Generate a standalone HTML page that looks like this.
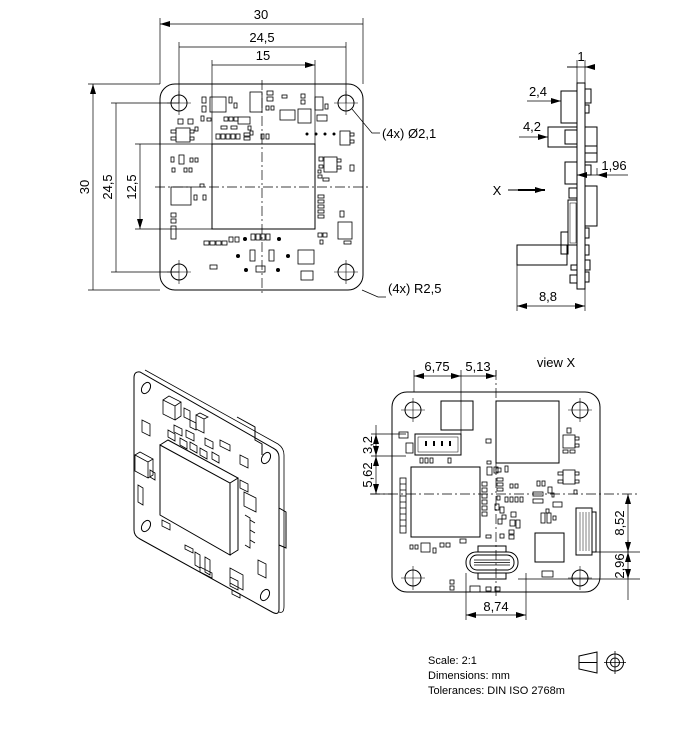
<!DOCTYPE html>
<html><head><meta charset="utf-8"><style>
html,body{margin:0;padding:0;background:#fff}
svg{display:block}
text{font-family:"Liberation Sans",sans-serif;font-size:13px;fill:#000}
.s{font-size:11px}
</style></head><body>
<svg width="689" height="751" viewBox="0 0 689 751" xmlns="http://www.w3.org/2000/svg">
<defs>
<marker id="a" viewBox="0 0 10 6" refX="10" refY="3" markerWidth="10" markerHeight="6" orient="auto-start-reverse" markerUnits="userSpaceOnUse"><path d="M0,0L10,3L0,6z" fill="#000"/></marker>
</defs>
<g fill="none" stroke="#000" stroke-width="1">
<!-- TOP VIEW -->
<rect x="160" y="84" width="203" height="206" rx="15"/>
<circle cx="179" cy="103" r="8"/><circle cx="346" cy="103" r="8"/><circle cx="179" cy="272" r="8"/><circle cx="346" cy="272" r="8"/>
<g stroke-width="0.6"><path d="M167 103h24M179 91v24M334 103h24M346 91v24M167 272h24M179 260v24M334 272h24M346 260v24"/></g>
<path d="M155 187h215M262 80v215" stroke-dasharray="10,3,2,3" stroke-width="0.7"/>
<rect x="212" y="144" width="103" height="85"/>
<g stroke-width="0.7">
<path d="M160 84V18M363 84V18M179 103V42M346 103V42M212 144V60M315 144V60"/>
<path d="M160 24H363M179 47H346M212 65H315" marker-start="url(#a)" marker-end="url(#a)"/>
<path d="M160 84H88M160 290H88M179 103H111M179 272H111M212 144H135M212 229H135"/>
<path d="M93 84V290M116 103V272M140 144V229" marker-start="url(#a)" marker-end="url(#a)"/>
<path d="M352 109L372 133H380M362 290L378 297H386"/>
</g>
<g stroke-width="0.8">
<rect x="210" y="97" width="16" height="15"/><rect x="202" y="97" width="4" height="6"/><rect x="202" y="106" width="4" height="6"/><rect x="229" y="97" width="3" height="6"/><rect x="234" y="103" width="3" height="5"/>
<rect x="250" y="92" width="12" height="20"/><rect x="267" y="91" width="6" height="4"/><rect x="267" y="97" width="6" height="4"/><rect x="266" y="106" width="3" height="4"/><rect x="271" y="106" width="3" height="4"/><rect x="282" y="95" width="5" height="3"/>
<rect x="280" y="110" width="15" height="10"/><rect x="298" y="109" width="13" height="14"/><rect x="301" y="94" width="4" height="4"/><rect x="301" y="100" width="4" height="4"/><rect x="315" y="97" width="8" height="13"/><rect x="325" y="104" width="3" height="5"/><rect x="317" y="115" width="10" height="6"/>
<rect x="238" y="117" width="12" height="7"/><rect x="224" y="117" width="4" height="4"/><rect x="229" y="117" width="4" height="4"/><rect x="234" y="117" width="4" height="4"/><rect x="207" y="118" width="4" height="3"/><rect x="201" y="116" width="3" height="5"/>
<rect x="221" y="126" width="6" height="3"/><rect x="231" y="126" width="6" height="3"/><rect x="248" y="126" width="3" height="4"/><rect x="250" y="131" width="3" height="4"/>
<rect x="216" y="134" width="4" height="5"/><rect x="221" y="134" width="4" height="5"/><rect x="226" y="134" width="4" height="5"/><rect x="231" y="134" width="4" height="5"/><rect x="236" y="134" width="4" height="5"/><rect x="244" y="133" width="6" height="3"/><rect x="244" y="137" width="6" height="3"/><rect x="261" y="134" width="3" height="5"/><rect x="266" y="134" width="3" height="5"/>
<rect x="176" y="128" width="14" height="14"/><rect x="171" y="130" width="5" height="3"/><rect x="171" y="137" width="5" height="3"/><rect x="190" y="130" width="4" height="3"/><rect x="190" y="137" width="4" height="3"/><rect x="178" y="119" width="5" height="5"/><rect x="188" y="119" width="5" height="5"/><rect x="195" y="127" width="3" height="4"/>
<rect x="340" y="131" width="10" height="14"/><rect x="350" y="133" width="4" height="3"/><rect x="350" y="140" width="4" height="3"/>
<rect x="171" y="157" width="3" height="5"/><rect x="179" y="155" width="5" height="9"/><rect x="190" y="158" width="3" height="4"/><rect x="195" y="158" width="3" height="4"/><rect x="172" y="168" width="3" height="4"/><rect x="184" y="168" width="3" height="4"/><rect x="189" y="168" width="3" height="4"/>
<rect x="171" y="187" width="20" height="18"/><rect x="200" y="184" width="4" height="3"/><rect x="194" y="195" width="3" height="5"/><rect x="203" y="195" width="3" height="5"/>
<rect x="171" y="213" width="5" height="4"/><rect x="171" y="219" width="5" height="4"/><rect x="171" y="226" width="5" height="13"/>
<rect x="324" y="157" width="13" height="15"/><rect x="319" y="157" width="4" height="4"/><rect x="319" y="165" width="4" height="3"/><rect x="337" y="159" width="4" height="3"/><rect x="337" y="166" width="4" height="3"/><rect x="318" y="170" width="3" height="3"/><rect x="318" y="175" width="4" height="3"/><rect x="323" y="178" width="6" height="3"/><rect x="350" y="165" width="4" height="6"/>
<rect x="318" y="195" width="6" height="3"/><rect x="318" y="200" width="6" height="3"/><rect x="318" y="205" width="6" height="3"/><rect x="318" y="210" width="6" height="3"/><rect x="318" y="215" width="6" height="3"/>
<rect x="340" y="211" width="4" height="6"/><rect x="338" y="222" width="14" height="17"/><rect x="344" y="241" width="7" height="3"/>
<rect x="318" y="233" width="4" height="4"/><rect x="323" y="233" width="4" height="4"/><rect x="320" y="240" width="3" height="4"/>
<rect x="204" y="241" width="5" height="4"/><rect x="210" y="241" width="5" height="4"/><rect x="216" y="241" width="5" height="4"/><rect x="222" y="241" width="5" height="4"/><rect x="229" y="237" width="4" height="5"/><rect x="235" y="237" width="4" height="5"/>
<rect x="251" y="234" width="4" height="6"/><rect x="256" y="234" width="4" height="6"/><rect x="261" y="234" width="4" height="6"/><rect x="266" y="234" width="4" height="6"/>
<rect x="250" y="250" width="5" height="11"/><rect x="269" y="250" width="5" height="11"/><rect x="256" y="266" width="9" height="6"/><rect x="298" y="250" width="16" height="14"/><rect x="301" y="271" width="12" height="9"/><rect x="210" y="265" width="7" height="4"/>
</g>
<g fill="#000" stroke="none"><circle cx="307" cy="134" r="1.5"/><circle cx="316" cy="134" r="1.5"/><circle cx="325" cy="134" r="1.5"/><circle cx="334" cy="134" r="1.5"/><circle cx="245" cy="239" r="2"/><circle cx="279" cy="239" r="2"/><circle cx="238" cy="256" r="2"/><circle cx="288" cy="256" r="2"/><circle cx="246" cy="270" r="2"/><circle cx="278" cy="270" r="2"/></g>

<!-- SIDE VIEW -->
<rect x="577" y="83" width="8" height="206"/>
<rect x="561" y="91" width="16" height="32"/><rect x="548" y="127" width="29" height="20"/><rect x="565" y="130" width="12" height="14"/>
<rect x="565" y="162" width="12" height="22"/><rect x="569" y="188" width="8" height="10"/>
<rect x="568" y="200" width="9" height="45"/><rect x="570" y="203" width="6" height="40" stroke-width="0.5"/>
<rect x="561" y="232" width="7" height="22"/><rect x="517" y="245" width="50" height="20"/><rect x="571" y="265" width="6" height="5"/><rect x="570" y="275" width="7" height="8"/>
<rect x="585" y="89" width="6" height="14"/><rect x="585" y="105" width="4" height="8"/><rect x="585" y="127" width="12" height="35"/><rect x="585" y="146" width="12" height="7"/><rect x="585" y="165" width="6" height="10"/><rect x="585" y="186" width="12" height="40"/><rect x="585" y="228" width="4" height="10"/><rect x="585" y="245" width="4" height="10"/><rect x="585" y="260" width="5" height="10"/><rect x="585" y="272" width="4" height="10"/>
<g stroke-width="0.7">
<path d="M577 83V60M585 83V60"/>
<path d="M567 67H577M595 67H585" marker-end="url(#a)"/><path d="M567 67H595"/>
<path d="M527 101H561" marker-end="url(#a)"/>
<path d="M519 137H548" marker-end="url(#a)"/>
<path d="M628 175H597" marker-end="url(#a)"/><path d="M597 175H577" marker-end="url(#a)"/><path d="M597 175V168"/>
<path d="M517 265V311M585 289V311"/><path d="M517 306H585" marker-start="url(#a)" marker-end="url(#a)"/>
</g>
<path d="M508 190H533"/><path d="M518 190H545" marker-end="url(#a)" stroke-width="2"/>

<!-- ISO VIEW -->
<path d="M140 372Q134 371 134 378V530Q134 536 140 539L272 612Q279 616 279 609V457Q279 451 273 448Z"/>
<path d="M145 370L278 444Q284 448 284 455V606Q284 614 279 612" stroke-width="0.8"/>
<path d="M237 417L255 427V440L262 444V455" /><path d="M279 508L286 512V548L279 545"/>
<ellipse cx="146" cy="388" rx="4" ry="6" transform="rotate(30 146 388)"/><ellipse cx="266" cy="458" rx="4" ry="6" transform="rotate(30 266 458)"/><ellipse cx="146" cy="526" rx="4" ry="6" transform="rotate(30 146 526)"/><ellipse cx="265" cy="595" rx="4" ry="6" transform="rotate(30 265 595)"/>
<path d="M160 445L230 483V555L160 515Z"/><path d="M160 445L168 440L238 478L230 483M238 478V550L230 555"/>
<g stroke-width="0.8">
<path d="M163 400L175 406V420L163 414ZM163 400L169 396L181 402L175 406M181 402V416L175 420"/>
<path d="M142 420L150 424V436L142 432Z"/><path d="M196 415L204 419V433L196 429ZM196 415L200 413L208 417L204 419"/>
<path d="M174 425L182 429V436L174 432ZM186 430L194 434V441L186 437ZM205 438L213 442V449L205 445ZM220 440L230 445V451L220 446Z"/>
<path d="M168 430L175 434V441L168 437ZM180 438L187 442V449L180 445ZM190 442L197 446V453L190 449ZM200 448L207 452V459L200 455ZM212 452L219 456V463L212 459ZM184 408L190 411V420L184 417ZM190 420L196 423V430L190 427Z"/>
<path d="M135 455L148 462V478L135 471ZM135 455L140 452L153 459L148 462M153 459V475L148 478"/>
<path d="M138 485L143 488V505L138 502Z"/><path d="M150 470L155 473V480L150 477Z"/>
<path d="M240 455L248 459V468L240 464ZM240 480L248 484V492L240 488ZM244 492L256 498V512L244 506Z"/>
<path d="M245 515L250 518V548L245 545M250 520L255 523M250 530L255 533M250 540L255 543"/>
<path d="M185 545L193 549V553L185 549ZM162 520L170 524V530L162 526Z"/>
<path d="M195 552L200 555V568L195 565ZM205 557L210 560V575L205 572ZM200 567L212 573V578L200 572Z"/>
<path d="M230 568L243 575V590L230 583ZM258 560L266 564V578L258 574ZM230 577L238 581V590L230 586ZM232 590L240 594V598L232 594Z"/>
</g>

<!-- VIEW X -->
<rect x="392" y="392" width="208" height="200" rx="15"/>
<circle cx="413" cy="410" r="8"/><circle cx="580" cy="410" r="8"/><circle cx="413" cy="578" r="8"/><circle cx="580" cy="578" r="8"/>
<g stroke-width="0.6"><path d="M401 410h24M413 398v24M568 410h24M580 398v24M401 578h24M413 566v24M568 578h24M580 566v24"/></g>
<path d="M370 494H640M496 370V598" stroke-dasharray="10,3,2,3" stroke-width="0.7"/>
<rect x="496" y="401" width="63" height="62"/><rect x="441" y="401" width="32" height="29"/><rect x="411" y="467" width="69" height="70"/>
<rect x="415" y="434" width="46" height="21"/><rect x="418" y="437" width="40" height="15" stroke-width="0.5"/>
<g fill="#000" stroke="none"><rect x="425" y="441" width="2" height="5"/><rect x="433" y="441" width="2" height="5"/><rect x="441" y="441" width="2" height="5"/><rect x="449" y="441" width="2" height="5"/></g>
<rect x="466" y="552" width="52" height="21" rx="10"/><rect x="470" y="555" width="44" height="15" rx="7"/><path d="M474 560H510M474 562.5H510M474 565H510" stroke-width="0.8"/>
<rect x="478" y="546" width="28" height="6"/><rect x="478" y="573" width="28" height="6"/>
<rect x="535" y="533" width="29" height="29"/><rect x="576" y="508" width="16" height="47"/><path d="M580 512V551M583 512V551M586 512V551M589 512V551" stroke-width="0.5"/><rect x="592" y="512" width="4" height="40"/>
<g stroke-width="0.8">
<rect x="399" y="432" width="9" height="6"/><rect x="406" y="443" width="7" height="10"/><rect x="420" y="458" width="3" height="5"/><rect x="425" y="458" width="3" height="5"/><rect x="430" y="458" width="3" height="5"/><rect x="448" y="458" width="3" height="5"/>
<rect x="400" y="478" width="6" height="55" /><path d="M400 484h6M400 490h6M400 496h6M400 502h6M400 508h6M400 514h6M400 520h6M400 526h6"/>
<rect x="486" y="439" width="5" height="4"/><rect x="487" y="461" width="4" height="3"/>
<rect x="487" y="467" width="5" height="8"/><rect x="494" y="467" width="4" height="6"/><rect x="496" y="468" width="5" height="4"/><rect x="505" y="466" width="3" height="6"/>
<rect x="482" y="482" width="5" height="4"/><rect x="482" y="488" width="5" height="4"/><rect x="482" y="494" width="5" height="4"/><rect x="482" y="500" width="5" height="4"/><rect x="482" y="506" width="5" height="4"/><rect x="482" y="512" width="5" height="4"/>
<rect x="497" y="478" width="6" height="3"/><rect x="497" y="483" width="6" height="3"/><rect x="497" y="488" width="6" height="3"/><rect x="510" y="484" width="3" height="4"/><rect x="515" y="484" width="3" height="4"/>
<rect x="497" y="496" width="3" height="4"/><rect x="505" y="497" width="3" height="5"/><rect x="510" y="497" width="3" height="5"/><rect x="515" y="497" width="3" height="5"/><rect x="520" y="497" width="3" height="5"/>
<rect x="533" y="492" width="10" height="4"/><rect x="533" y="499" width="10" height="4"/><rect x="537" y="481" width="3" height="5"/><rect x="542" y="481" width="3" height="5"/>
<rect x="552" y="493" width="2" height="4"/><rect x="553" y="502" width="9" height="5"/><rect x="546" y="509" width="3" height="4"/>
<rect x="495" y="504" width="4" height="6"/><rect x="500" y="507" width="4" height="6"/><rect x="502" y="515" width="4" height="4"/><rect x="498" y="519" width="4" height="5"/><rect x="511" y="512" width="5" height="5"/><rect x="510" y="520" width="5" height="6"/><rect x="516" y="520" width="4" height="8"/><rect x="509" y="530" width="5" height="4"/><rect x="509" y="535" width="5" height="4"/><rect x="500" y="534" width="4" height="4"/><rect x="486" y="535" width="5" height="3"/>
<rect x="541" y="513" width="4" height="10"/><rect x="547" y="513" width="4" height="10"/><rect x="553" y="516" width="3" height="4"/>
<rect x="548" y="487" width="4" height="6"/><rect x="563" y="470" width="12" height="14"/><rect x="558" y="472" width="5" height="3"/><rect x="558" y="480" width="5" height="3"/><rect x="575" y="472" width="4" height="3"/><rect x="575" y="480" width="4" height="3"/><rect x="574" y="490" width="3" height="4"/>
<rect x="563" y="435" width="12" height="13"/><rect x="575" y="437" width="4" height="3"/><rect x="575" y="444" width="4" height="3"/><rect x="563" y="450" width="5" height="3"/><rect x="570" y="450" width="5" height="3"/><rect x="567" y="428" width="4" height="5"/>
<rect x="410" y="545" width="3" height="4"/><rect x="415" y="545" width="3" height="4"/><rect x="421" y="543" width="9" height="9"/><rect x="433" y="548" width="3" height="5"/><rect x="440" y="543" width="4" height="4"/><rect x="446" y="543" width="4" height="4"/><rect x="460" y="539" width="6" height="4"/>
<rect x="542" y="571" width="11" height="6"/><rect x="450" y="580" width="4" height="4"/><rect x="450" y="586" width="4" height="4"/><rect x="470" y="586" width="10" height="6"/><rect x="486" y="587" width="5" height="4"/><rect x="495" y="587" width="5" height="4"/>
</g>
<g stroke-width="0.7">
<path d="M414 392V370M461 434V370M496 376V370"/>
<path d="M414 376H461" marker-start="url(#a)" marker-end="url(#a)"/><path d="M461 376H496" marker-end="url(#a)"/>
<path d="M371 434H406M371 456H406M371 494H392"/>
<path d="M376 434V456" marker-start="url(#a)" marker-end="url(#a)"/><path d="M376 456V494" marker-start="url(#a)" marker-end="url(#a)"/><path d="M376 425V434"/>
<path d="M592 552H640M518 579H640"/>
<path d="M628 494V552" marker-start="url(#a)" marker-end="url(#a)"/><path d="M628 579V600M628 540V552" /><path d="M628 552V579" marker-start="url(#a)" marker-end="url(#a)"/>
<path d="M466 573V620M526 573V620"/><path d="M466 615H526" marker-start="url(#a)" marker-end="url(#a)"/>
</g>

<path d="M579 656L597 652V673L579 669Z M579 662.5H597" stroke-width="1"/>
<circle cx="615" cy="662.5" r="8.5"/><circle cx="615" cy="662.5" r="4.5"/><path d="M604 662.5H626M615 651V674" stroke-width="0.8"/>
</g>

<g>
<text x="261" y="19" text-anchor="middle">30</text>
<text x="262" y="42" text-anchor="middle">24,5</text>
<text x="263" y="60" text-anchor="middle">15</text>
<text transform="translate(89 187) rotate(-90)" text-anchor="middle">30</text>
<text transform="translate(112 187) rotate(-90)" text-anchor="middle">24,5</text>
<text transform="translate(136 187) rotate(-90)" text-anchor="middle">12,5</text>
<text x="382" y="138">(4x) Ø2,1</text>
<text x="388" y="293">(4x) R2,5</text>
<text x="581" y="61" text-anchor="middle">1</text>
<text x="538" y="96" text-anchor="middle">2,4</text>
<text x="532" y="131" text-anchor="middle">4,2</text>
<text x="614" y="170" text-anchor="middle">1,96</text>
<text x="497" y="195" text-anchor="middle">X</text>
<text x="548" y="301" text-anchor="middle">8,8</text>
<text x="556" y="367" text-anchor="middle">view X</text>
<text x="437" y="371" text-anchor="middle">6,75</text>
<text x="478" y="371" text-anchor="middle">5,13</text>
<text transform="translate(372 445) rotate(-90)" text-anchor="middle">3,2</text>
<text transform="translate(372 475) rotate(-90)" text-anchor="middle">5,62</text>
<text transform="translate(624 523) rotate(-90)" text-anchor="middle">8,52</text>
<text transform="translate(624 566) rotate(-90)" text-anchor="middle">2,96</text>
<text x="496" y="611" text-anchor="middle">8,74</text>
<text class="s" x="428" y="664">Scale: 2:1</text>
<text class="s" x="428" y="679">Dimensions: mm</text>
<text class="s" x="428" y="694">Tolerances: DIN ISO 2768m</text>
</g>
</svg>
</body></html>
